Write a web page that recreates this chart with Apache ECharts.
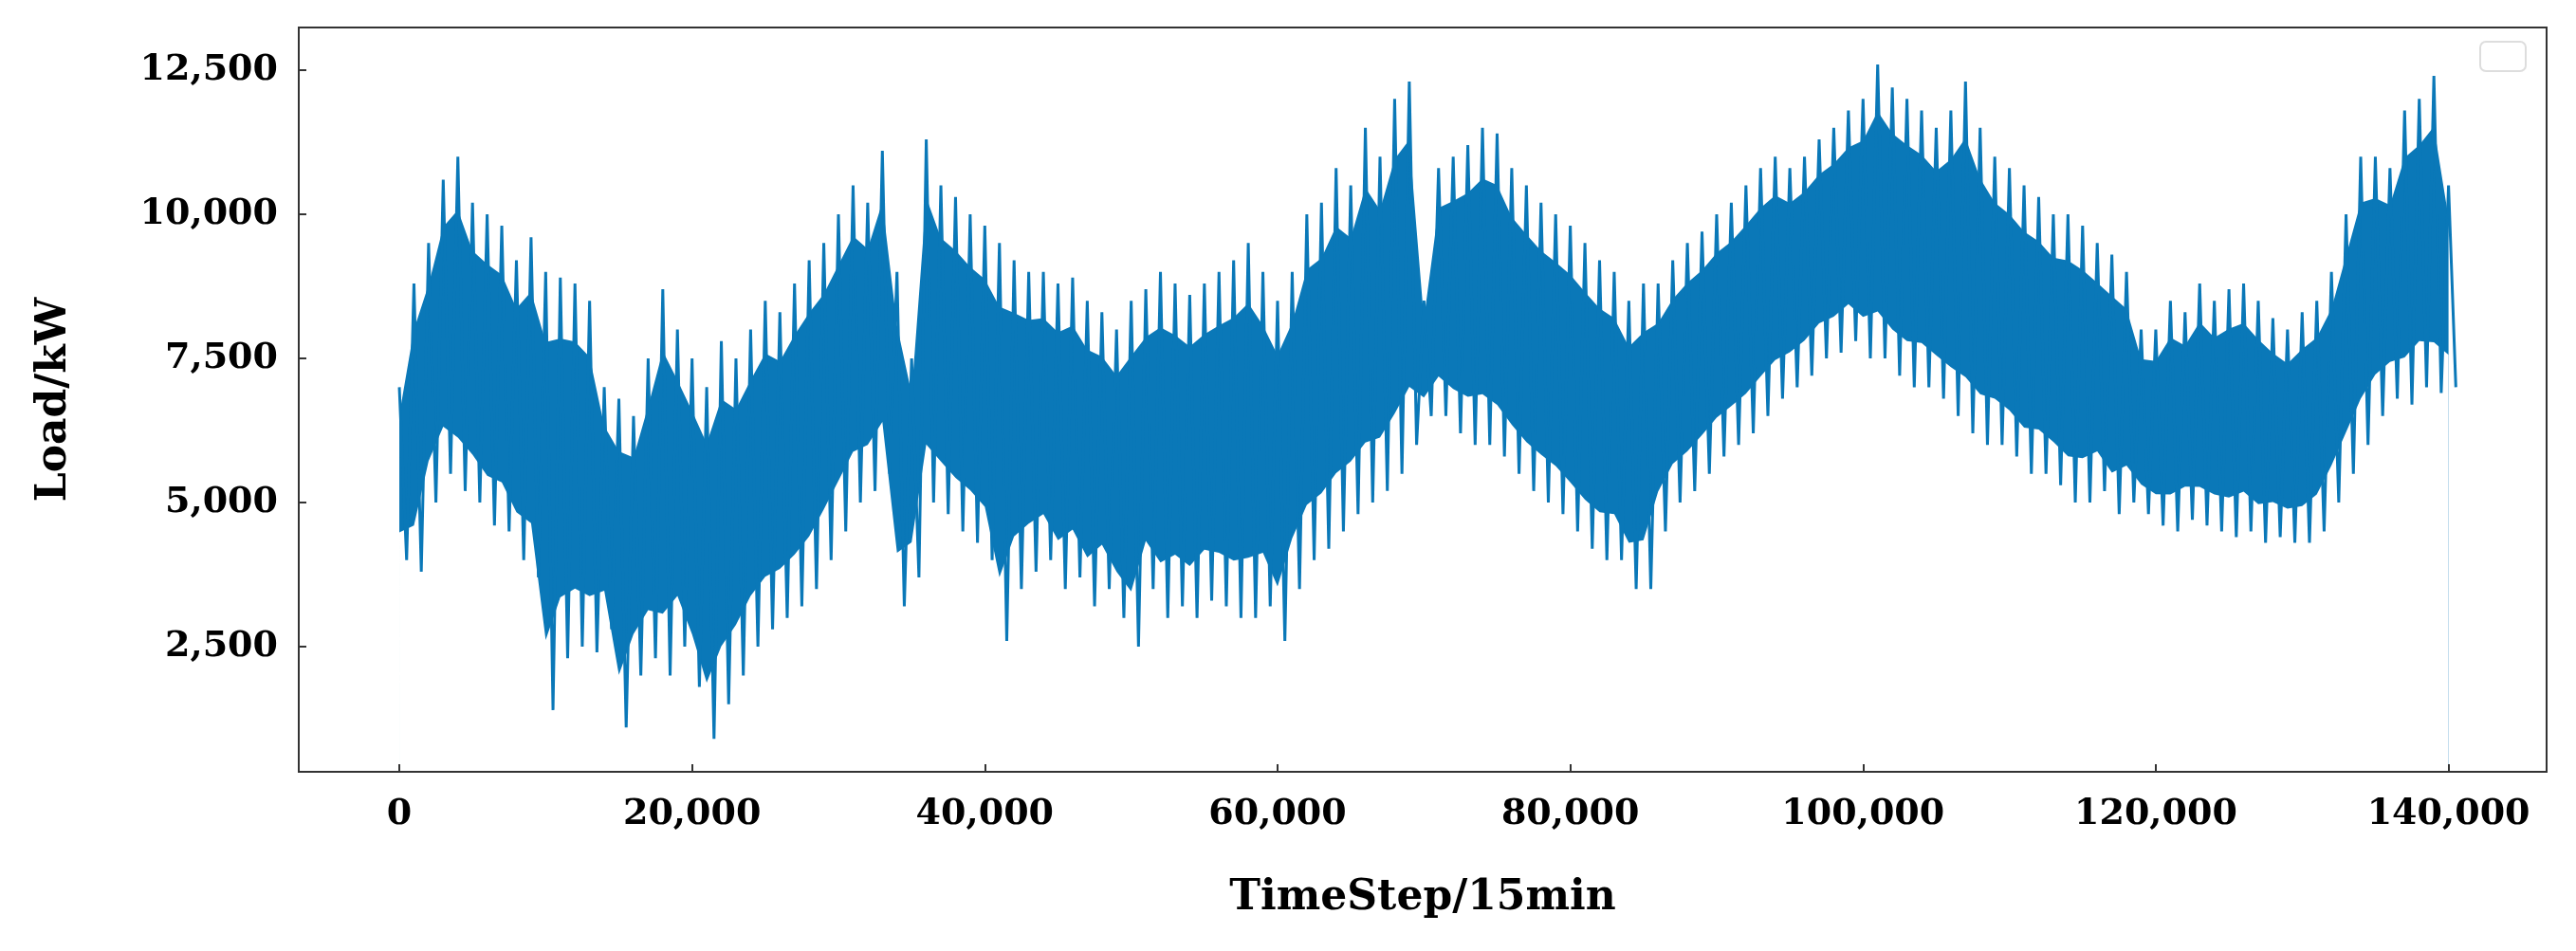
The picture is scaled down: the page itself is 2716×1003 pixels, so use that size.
<!DOCTYPE html>
<html>
<head>
<meta charset="utf-8">
<script src="https://cdn.jsdelivr.net/npm/echarts@6/dist/echarts.min.js"></script>
<style>html,body{margin:0;padding:0;background:#fff}#chart{width:2716px;height:1003px}</style>
</head>
<body>
<div id="chart"></div>
<script>
// envelope of the load signal, read every 1000 time steps
const stepSize = 1000;
const peaks = [
    7000, 8800, 9500, 10600, 11000, 10200, 10000, 9800, 9200, 9600,
    9000, 8900, 8800, 8500, 7000, 6800, 6500, 7500, 8700, 8000,
    7500, 7000, 7800, 7500, 8000, 8500, 8300, 8800, 9200, 9500,
    10000, 10500, 10200, 11100, 9000, 7500, 11300, 10500, 10300, 10000,
    9800, 9500, 9200, 9000, 9000, 8800, 8900, 8500, 8300, 8000,
    8500, 8700, 9000, 8800, 8600, 8800, 9000, 9200, 9500, 9000,
    8500, 9000, 10000, 10200, 10800, 10500, 11500, 11000, 12000, 12300,
    8500, 10800, 11000, 11200, 11500, 11400, 10800, 10500, 10200, 10000,
    9800, 9500, 9200, 9000, 8500, 8800, 8800, 9200, 9500, 9700,
    10000, 10200, 10500, 10800, 11000, 10800, 11000, 11300, 11500, 11800,
    12000, 12600, 12200, 12000, 11800, 11500, 11800, 12300, 11500, 11000,
    10800, 10500, 10300, 10000, 10000, 9800, 9500, 9300, 9000, 8000,
    8000, 8500, 8300, 8800, 8500, 8700, 8800, 8500, 8200, 8000,
    8300, 8500, 9000, 10000, 11000, 11000, 10800, 11800, 12000, 12400,
    10500
];
const troughs = [
    4000, 3800, 5000, 5500, 5200, 5000, 4600, 4500, 4000, 3700,
    1400, 2300, 2500, 2400, 2800, 1100, 2000, 2300, 2000, 2500,
    1800, 900, 1500, 2000, 2500, 2800, 3000, 3200, 3500, 4000,
    4500, 5000, 5200, 5500, 3200, 3700, 5000, 4800, 4500, 4300,
    4000, 2600, 3500, 3800, 4000, 3500, 3700, 3200, 3500, 3000,
    2500, 3500, 3000, 3200, 3000, 3300, 3200, 3000, 3000, 3200,
    2600, 3500, 4000, 4200, 4500, 4800, 5000, 5200, 5500, 6000,
    6500, 6500, 6200, 6000, 6000, 5800, 5500, 5200, 5000, 4800,
    4500, 4200, 4000, 4000, 3500, 3500, 4500, 5000, 5200, 5500,
    5800, 6000, 6200, 6500, 6800, 7000, 7200, 7500, 7600, 7800,
    7500, 7500, 7200, 7000, 7000, 6800, 6500, 6200, 6000, 6000,
    5800, 5500, 5500, 5300, 5000, 5000, 5200, 4800, 5000, 4800,
    4600, 4500, 4700, 4600, 4500, 4400, 4500, 4300, 4400, 4300,
    4300, 4500, 5000, 5500, 6000, 6500, 6800, 6700, 7000, 6900,
    7000
];
const yTicks = [2500, 5000, 7500, 10000, 12500];
const xTicks = [0, 20000, 40000, 60000, 80000, 100000, 120000, 140000];

const blue = '#0a78b8';
const font = '"DejaVu Serif", "Liberation Serif", serif';

// zigzag: peak at each step, trough half a step later
const zigzag = [];
const coreTop = [];
const coreBottom = [];
peaks.forEach(function (p, i) {
    const x = i * stepSize;
    zigzag.push([x, p]);
    zigzag.push([x + stepSize / 2, troughs[i]]);
    const span = p - troughs[i];
    coreTop.push([x, p - span * 0.16]);
    coreBottom.push([x, troughs[i] + span * 0.16]);
});

var chart = echarts.init(document.getElementById('chart'));
var option = {
    animation: false,
    grid: {left: 315, right: 31, top: 29, bottom: 189, show: true, borderColor: '#333', borderWidth: 2, z: 10},
    xAxis: {
        type: 'value', min: -6870, max: 146700, z: 10,
        name: 'TimeStep/15min', nameLocation: 'middle', nameGap: 112,
        nameTextStyle: {fontFamily: font, fontWeight: 'bold', fontSize: 44, color: '#000'},
        axisLine: {show: true, onZero: false, lineStyle: {color: '#333', width: 2}},
        axisTick: {inside: true, length: 8, lineStyle: {color: '#333', width: 2}, customValues: xTicks},
        axisLabel: {fontFamily: font, fontWeight: 'bold', fontSize: 38, color: '#000', margin: 26,
            customValues: xTicks, formatter: v => v.toLocaleString('en-US')},
        splitLine: {show: false}
    },
    yAxis: {
        type: 'value', min: 329, max: 13240, z: 10,
        name: 'Load/kW', nameLocation: 'middle', nameGap: 235,
        nameTextStyle: {fontFamily: font, fontWeight: 'bold', fontSize: 44, color: '#000'},
        axisLine: {show: true, onZero: false, lineStyle: {color: '#333', width: 2}},
        axisTick: {inside: true, length: 8, lineStyle: {color: '#333', width: 2}, customValues: yTicks},
        axisLabel: {fontFamily: font, fontWeight: 'bold', fontSize: 38, color: '#000', margin: 22,
            customValues: yTicks, formatter: v => v.toLocaleString('en-US')},
        splitLine: {show: false}
    },
    series: [
        {type: 'line', data: coreTop, symbol: 'none', lineStyle: {width: 0}, silent: true, z: 1,
            areaStyle: {color: blue, opacity: 1, origin: 'start'}},
        {type: 'line', data: coreBottom, symbol: 'none', lineStyle: {width: 0}, silent: true, z: 2,
            areaStyle: {color: '#fff', opacity: 1, origin: 'start'}},
        {type: 'line', data: zigzag, symbol: 'none', z: 3, lineStyle: {color: blue, width: 3}}
    ],
    graphic: [{
        type: 'rect', left: 2614, top: 43,
        shape: {width: 48, height: 31, r: 6},
        style: {fill: '#fff', stroke: '#ddd', lineWidth: 2}
    }]
};
option && chart.setOption(option);
</script>
</body>
</html>
